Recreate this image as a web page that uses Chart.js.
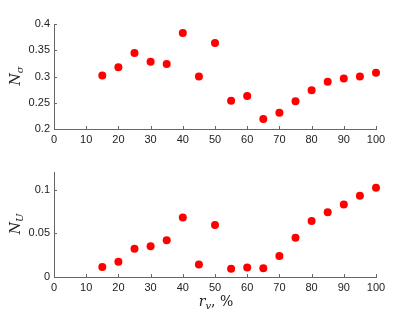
<!DOCTYPE html>
<html><head><meta charset="utf-8">
<script src="https://cdn.jsdelivr.net/npm/chart.js@4/dist/chart.umd.min.js"></script>
<style>
html,body{margin:0;padding:0;background:#fff;}
#wrap{position:relative;width:415px;height:312px;overflow:hidden;}
canvas{position:absolute;left:0;}
.lab{position:absolute;font-family:"DejaVu Serif","Liberation Serif",serif;font-size:14px;color:#222;white-space:nowrap;}
.lab i{font-style:italic;}
.lab sub{font-size:10px;vertical-align:-3px;}
.rot{transform:translate(-50%,-50%) rotate(-90deg);}
</style></head><body>
<div id="wrap">
<canvas id="c1" width="415" height="151" style="top:0px"></canvas>
<canvas id="c2" width="415" height="149" style="top:150px"></canvas>
<div class="lab rot" style="left:16px;top:76px;"><i>N</i><sub><i>σ</i></sub></div>
<div class="lab rot" style="left:16px;top:224px;"><i>N</i><sub><i>U</i></sub></div>
<div class="lab" style="left:216px;top:302px;transform:translate(-50%,-50%);"><i>r</i><sub><i>v</i></sub>, %</div>
</div>
<script>
const rv = [15,20,25,30,35,40,45,50,55,60,65,70,75,80,85,90,95,100];
const Nsigma = [0.302,0.3175,0.345,0.328,0.324,0.383,0.300,0.364,0.254,0.263,0.219,0.231,0.253,0.274,0.290,0.296,0.300,0.307];
const NU = [0.0114,0.0174,0.0322,0.0352,0.042,0.068,0.0144,0.0595,0.0095,0.011,0.010,0.024,0.045,0.064,0.074,0.083,0.093,0.102];
const xTicks = [0,10,20,30,40,50,60,70,80,90,100];
const topYTicks = [0.2,0.25,0.3,0.35,0.4];
const botYTicks = [0,0.05,0.1];

const axisColor = '#666';
const textColor = '#222';
const font = {family:'"Liberation Sans", Arial, sans-serif', size:11};

const inwardTicks = {
  id:'inwardTicks',
  afterDraw(chart){
    const ctx = chart.ctx, x = chart.scales.x, y = chart.scales.y;
    ctx.save();
    ctx.strokeStyle = axisColor; ctx.lineWidth = 1;
    ctx.beginPath();
    x.ticks.forEach(t=>{ const px = Math.round(x.getPixelForValue(t.value))+0.5; ctx.moveTo(px, y.bottom); ctx.lineTo(px, y.bottom-3); });
    y.ticks.forEach(t=>{ const py = Math.round(y.getPixelForValue(t.value))+0.5; ctx.moveTo(x.left, py); ctx.lineTo(x.left+3, py); });
    ctx.stroke();
    ctx.restore();
  }
};

function make(id, vals, ymin, ymax, yticks, padTop){
  return new Chart(document.getElementById(id), {
    type:'scatter',
    data:{datasets:[{data: rv.map((v,i)=>({x:v,y:vals[i]})), backgroundColor:'#ff0000', borderWidth:0, pointRadius:4, pointHoverRadius:4, clip:false}]},
    options:{
      responsive:false, animation:false, events:[],
      layout:{padding:{top:padTop, right:39, left:0, bottom:0}},
      plugins:{legend:{display:false}, tooltip:{enabled:false}},
      scales:{
        x:{type:'linear', min:0, max:100,
           afterBuildTicks:s=>{s.ticks = xTicks.map(v=>({value:v}));},
           afterFit:s=>{s.height = 22;},
           grid:{display:false, drawTicks:false},
           border:{display:true, color:axisColor, width:1},
           ticks:{padding:4, color:textColor, font, maxRotation:0, autoSkip:false, callback:v=>String(v)}},
        y:{type:'linear', min:ymin, max:ymax,
           afterBuildTicks:s=>{s.ticks = yticks.map(v=>({value:v}));},
           afterFit:s=>{s.width = 54;},
           grid:{display:false, drawTicks:false},
           border:{display:true, color:axisColor, width:1},
           ticks:{padding:4, color:textColor, font, autoSkip:false, callback:v=>String(v)}}
      }
    },
    plugins:[inwardTicks]
  });
}
make('c1', Nsigma, 0.2, 0.4, topYTicks, 24);
make('c2', NU, 0, 0.12, botYTicks, 22);
</script>
</body></html>
